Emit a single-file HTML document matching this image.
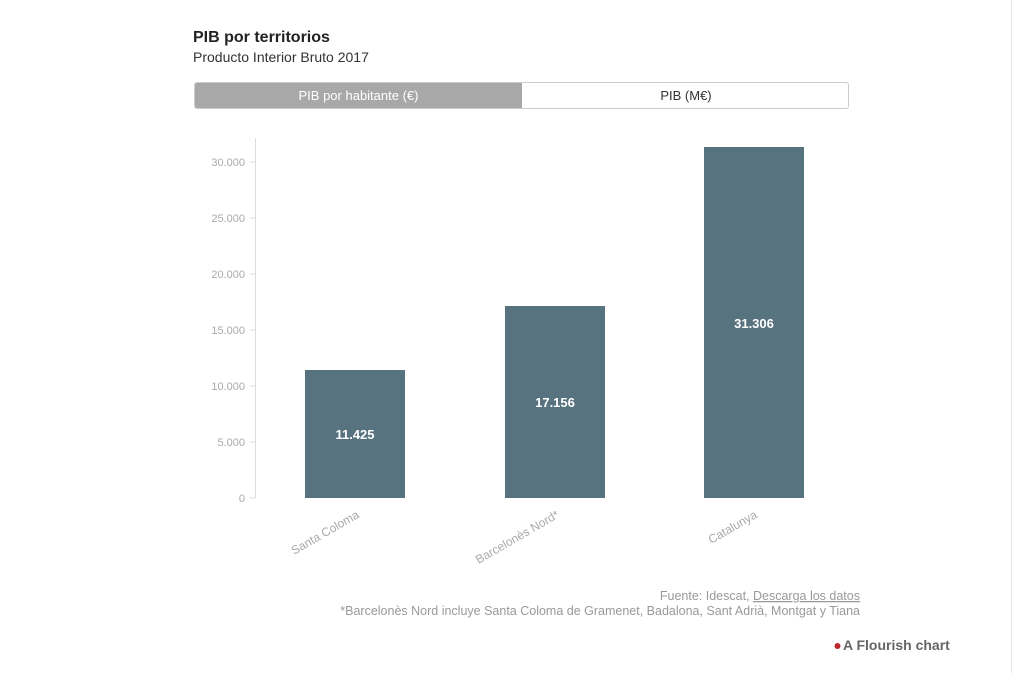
<!DOCTYPE html>
<html><head><meta charset="utf-8"><style>
body{margin:0;width:1024px;height:673px;background:#fff;overflow:hidden;font-family:"Liberation Sans Narrow","Liberation Sans",sans-serif;position:relative}
.t{position:absolute;white-space:nowrap}
</style></head><body>
<div style="position:absolute;left:1011px;top:0;width:1px;height:673px;background:#e6e6e6"></div>
<div class="t" style="left:193px;top:29px;font-size:16px;font-weight:bold;color:#222">PIB por territorios</div>
<div class="t" style="left:193px;top:49px;font-size:14px;color:#333">Producto Interior Bruto 2017</div>
<div style="position:absolute;left:194px;top:82px;width:655px;height:27px;border:1px solid #ccc;border-radius:3px;overflow:hidden;box-sizing:border-box">
<div style="position:absolute;left:0;top:0;width:327px;height:100%;background:#a8a8a8;color:#fff;font-size:13px;line-height:26px;text-align:center">PIB por habitante (€)</div>
<div style="position:absolute;left:327px;top:0;width:328px;height:100%;color:#333;font-size:13px;line-height:26px;text-align:center">PIB (M€)</div>
</div>
<svg style="position:absolute;left:0;top:0" width="1024" height="673" font-family="Liberation Sans Narrow, Liberation Sans, sans-serif">
<line x1="255.5" y1="138" x2="255.5" y2="498" stroke="#ddd"/>
<g fill="#aaa" font-size="11" text-anchor="end">
<text x="245" y="502">0</text><text x="245" y="446">5.000</text><text x="245" y="390">10.000</text>
<text x="245" y="334">15.000</text><text x="245" y="278">20.000</text><text x="245" y="222">25.000</text><text x="245" y="166">30.000</text>
</g>
<g stroke="#ddd"><line x1="250" y1="498" x2="255" y2="498"/><line x1="250" y1="442" x2="255" y2="442"/><line x1="250" y1="386" x2="255" y2="386"/><line x1="250" y1="330" x2="255" y2="330"/><line x1="250" y1="274" x2="255" y2="274"/><line x1="250" y1="218" x2="255" y2="218"/><line x1="250" y1="162" x2="255" y2="162"/></g>
<g fill="#587380">
<rect x="305" y="370" width="100" height="128"/>
<rect x="505" y="306" width="100" height="192"/>
<rect x="704" y="147" width="100" height="351"/>
</g>
<g fill="#fff" font-size="13" font-weight="bold" text-anchor="middle">
<text x="355" y="439">11.425</text><text x="555" y="407">17.156</text><text x="754" y="328">31.306</text>
</g>
<g fill="#aaa" font-size="12" text-anchor="end">
<text transform="translate(360,517) rotate(-30)">Santa Coloma</text>
<text transform="translate(560,517) rotate(-30)">Barcelonès Nord*</text>
<text transform="translate(758,517) rotate(-30)">Catalunya</text>
</g>
<g fill="#999" font-size="12.5" text-anchor="end">
<text x="860" y="600">Fuente: Idescat, <tspan text-decoration="underline">Descarga los datos</tspan></text>
<text x="860" y="615">*Barcelonès Nord incluye Santa Coloma de Gramenet, Badalona, Sant Adrià, Montgat y Tiana</text>
</g>
<circle cx="837.5" cy="646" r="3" fill="#c0272d"/>
<text x="843" y="650" font-family="Liberation Sans, sans-serif" font-size="14" font-weight="bold" fill="#666">A Flourish chart</text>
</svg>
</body></html>
